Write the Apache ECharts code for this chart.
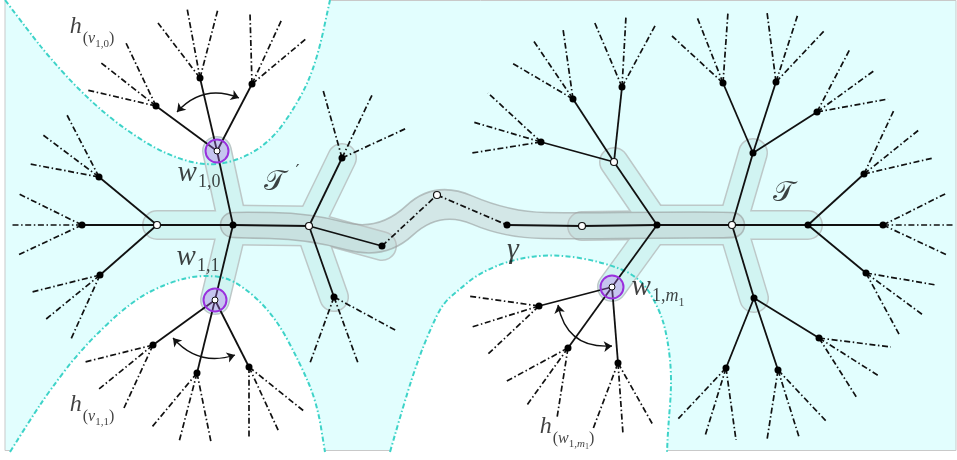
<!DOCTYPE html>
<html><head><meta charset="utf-8">
<script src="https://cdn.jsdelivr.net/npm/echarts@6/dist/echarts.min.js"></script>
<style>html,body{margin:0;padding:0;background:#fff}#c{width:957px;height:460px}</style>
</head><body><div id="c"></div><script>
// ---------- data ----------
const treeNodes = [
 ['L0',157,225,'open'],['L1',233,225,'dot'],['L2',309,226,'open'],['L3',382,246,'dot'],
 ['W10',217,151,'root'],['W11',215,300,'root'],
 ['A1',200,78,'dot'],['A2',252,84,'dot'],['A3',156,106,'dot'],
 ['B1',99,177,'dot'],['B2',82,225,'dot'],['B3',100,275,'dot'],
 ['C1',153,345,'dot'],['C2',197,373,'dot'],['C3',249,367,'dot'],
 ['D1',342,158,'dot'],['D2',334,297,'dot'],
 ['M1',437,195,'open'],['M2',507,225,'dot'],
 ['R0',582,226,'open'],['R1',657,225,'dot'],['R2',732,225,'open'],['R3',808,225,'dot'],['R4',883,225,'dot'],
 ['U0',614,162,'open'],['E1',541,142,'dot'],['E2',573,99,'dot'],['E3',622,87,'dot'],
 ['U1',753,153,'dot'],['F1',723,83,'dot'],['F2',776,82,'dot'],['F3',817,112,'dot'],
 ['G1',864,174,'dot'],['G2',866,273,'dot'],
 ['V1',754,298,'dot'],['H1',726,368,'dot'],['H2',778,370,'dot'],['H3',819,338,'dot'],
 ['WM',612,287,'root'],['K1',539,306,'dot'],['K2',568,348,'dot'],['K3',618,363,'dot']
];
const solidEdges = [
 ['L0','L1'],['L1','L2'],['L2','L3'],['L0','B1'],['L0','B2'],['L0','B3'],
 ['L1','W10'],['L1','W11'],['W10','A1'],['W10','A2'],['W10','A3'],
 ['W11','C1'],['W11','C2'],['W11','C3'],['L2','D1'],['L2','D2'],
 ['M2','R0'],['R0','R1'],['R1','R2'],['R2','R3'],['R3','R4'],
 ['R1','U0'],['U0','E1'],['U0','E2'],['U0','E3'],
 ['R2','U1'],['U1','F1'],['U1','F2'],['U1','F3'],
 ['R3','G1'],['R3','G2'],['R2','V1'],['V1','H1'],['V1','H2'],['V1','H3'],
 ['R1','WM'],['WM','K1'],['WM','K2'],['WM','K3']
];
const dashedEdges = [['L3','M1'],['M1','M2']];
const rayFans = [
 ['A1',[[187,8],[218,9],[158,23]]],
 ['A2',[[250,13],[282,19],[307,38]]],
 ['A3',[[87,90],[100,62],[126,43]]],
 ['B1',[[67,115],[43,135],[30,164]]],
 ['B2',[[19,194],[12,225],[18,255]]],
 ['B3',[[32,292],[45,320],[71,339]]],
 ['C1',[[85,362],[99,389],[124,408]]],
 ['C2',[[152,427],[179,442],[211,442]]],
 ['C3',[[249,438],[279,432],[305,412]]],
 ['D1',[[323,90],[373,93],[407,128]]],
 ['D2',[[310,363],[358,363],[397,331]]],
 ['E1',[[472,153],[473,122],[488,93]]],
 ['E2',[[512,63],[533,40],[563,29]]],
 ['E3',[[594,21],[626,16],[656,24]]],
 ['F1',[[672,36],[697,17],[728,12]]],
 ['F2',[[767,12],[798,14],[825,30]]],
 ['F3',[[850,49],[875,70],[888,99]]],
 ['G1',[[894,110],[920,129],[933,158]]],
 ['R4',[[947,193],[953,225],[947,255]]],
 ['G2',[[900,336],[923,315],[936,285]]],
 ['H1',[[677,420],[705,436],[736,440]]],
 ['H2',[[767,440],[799,437],[827,422]]],
 ['H3',[[857,398],[879,376],[891,347]]],
 ['K1',[[468,296],[472,327],[487,355]]],
 ['K2',[[505,382],[527,405],[557,418]]],
 ['K3',[[593,429],[623,434],[653,425]]]
];
const blobTPrimeEdges = [['L0','L1'],['L1','L2'],['L1','W10'],['L1','W11'],['L2','D1'],['L2','D2'],['L2','L3']];
const blobTEdges = [['R0','R1'],['R1','R2'],['R2','R3'],['R1','U0'],['R2','U1'],['R2','V1'],['R1','WM']];
const blobSpines = [['L1','L2'],['R1','R2']];
const gammaPath = ['L1','L2','L3','M1','M2','R0','R1','R2'];
const regionTopLeft = [[5,0],[30,33],[50,58],[80,91],[117,124],[167,156],[217,168],[267,147],[300,100],[317,60],[330,0]];
const regionBottomLeft = [[10,452],[30,420],[50,390],[83,347],[133,300],[170,282],[200,275],[233,278],[273,313],[300,363],[317,403],[325,452]];
const regionBottomMid = [[390,452],[405,400],[418,360],[430,330],[443,303],[460,289],[478,274],[513,259],[556,254],[603,262],[640,277],[660,310],[668,340],[672,380],[668,430],[667,452]];
const arrowArcs = [
 [[177,112],[239,98],0.35],
 [[173,338],[235,355],-0.33],
 [[558,305],[612,346],-0.44]
];
const labelItems = [
 ['{H|h}{hp|(}{hv|v}{hs|1,0}{hp|)}', 92, 39],
 ['{W|w}{ws|1,0}', 199, 180],
 ['{T|𝒯}{pr|′}', 282, 181],
 ['{W|w}{ws|1,1}', 198, 264],
 ['{H|h}{hp|(}{hv|v}{hs|1,1}{hp|)}', 92, 417],
 ['{G|γ}', 513, 250],
 ['{W|w}{ws|1,}{wsi|m}{wss|1}', 658, 294],
 ['{T|𝒯}', 783, 192],
 ['{H|h}{hp|(}{hv|w}{hs|1,}{hsi|m}{hss|1}{hp|)}', 567, 439]
];

// ---------- helpers ----------
const nodeMap = {};
treeNodes.forEach(n => { nodeMap[n[0]] = [n[1], n[2]]; });
const XY = name => nodeMap[name];
const mid = (a,b) => [(a[0]+b[0])/2,(a[1]+b[1])/2];
function openSmooth(p){
  let d = 'M'+p[0][0]+' '+p[0][1];
  for (let i=1;i<p.length-1;i++){ const e = mid(p[i],p[i+1]); d += ' Q'+p[i][0]+' '+p[i][1]+' '+e[0]+' '+e[1]; }
  const l = p[p.length-1]; return d + ' L'+l[0]+' '+l[1];
}
function closedSmooth(q){
  const m = q.length; const s = mid(q[m-1],q[0]);
  let d = 'M'+s[0]+' '+s[1];
  for (let i=0;i<m;i++){ const c=q[i], e=mid(q[i],q[(i+1)%m]); d += ' Q'+c[0]+' '+c[1]+' '+e[0]+' '+e[1]; }
  return d+' Z';
}
function tubeOutline(pts, r){
  const n = pts.length, segN=[], segD=[];
  for (let i=0;i<n-1;i++){ const dx=pts[i+1][0]-pts[i][0], dy=pts[i+1][1]-pts[i][1], L=Math.hypot(dx,dy); segD.push([dx/L,dy/L]); segN.push([-dy/L,dx/L]); }
  const left=[], right=[];
  for (let i=0;i<n;i++){
    let m, s;
    if (i===0){ m=segN[0]; s=r; } else if (i===n-1){ m=segN[n-2]; s=r; }
    else { const a=segN[i-1], b=segN[i]; let mx=a[0]+b[0], my=a[1]+b[1]; const ml=Math.hypot(mx,my); mx/=ml; my/=ml; m=[mx,my]; s=r/(mx*b[0]+my*b[1]); }
    left.push([pts[i][0]+m[0]*s, pts[i][1]+m[1]*s]);
    right.push([pts[i][0]-m[0]*s, pts[i][1]-m[1]*s]);
  }
  const loop = left.slice();
  const dN=segD[n-2], nN=segN[n-2], pN=pts[n-1];
  for (let k=1;k<6;k++){ const t=k*Math.PI/6; loop.push([pN[0]+r*(nN[0]*Math.cos(t)+dN[0]*Math.sin(t)), pN[1]+r*(nN[1]*Math.cos(t)+dN[1]*Math.sin(t))]); }
  for (let i=n-1;i>=0;i--) loop.push(right[i]);
  const d0=segD[0], n0=segN[0], p0=pts[0];
  for (let k=1;k<6;k++){ const t=k*Math.PI/6; loop.push([p0[0]+r*(-n0[0]*Math.cos(t)-d0[0]*Math.sin(t)), p0[1]+r*(-n0[1]*Math.cos(t)-d0[1]*Math.sin(t))]); }
  return loop;
}

const BG = '#e2fefe', CYAN = '#3ed3c8';
const chart = echarts.init(document.getElementById('c'), null, {renderer:'canvas'});

function regionsRender(params, api){
  const c = p => api.coord(p);
  const tl = c([5,0]), br = c([956,450]);
  const children = [{type:'rect', shape:{x:tl[0], y:tl[1]+0.5, width:br[0]-tl[0], height:br[1]-tl[1]}, style:{fill:BG, stroke:'#c9c9c9', lineWidth:1}}];
  [['top',regionTopLeft],['bottom',regionBottomLeft],['bottom',regionBottomMid]].forEach(([side, pts]) => {
    const px = pts.map(c);
    const f = px[0], l = px[px.length-1];
    const yy = side==='top' ? c([0,-12])[1] : c([0,472])[1];
    children.push({type:'path', shape:{pathData: openSmooth(px)+' L'+l[0]+' '+yy+' L'+f[0]+' '+yy+' Z'}, style:{fill:'#ffffff', stroke:null}});
  });
  return {type:'group', children};
}
function boundaryRender(params, api){
  const c = p => api.coord(p);
  return {type:'group', children:[regionTopLeft, regionBottomLeft, regionBottomMid].map(pts => ({
    type:'path', shape:{pathData: openSmooth(pts.map(c))},
    style:{fill:null, stroke:CYAN, lineWidth:2, lineDash:[5,2.4,1.5,2.4]}
  }))};
}
function blobsRender(params, api){
  const c = p => api.coord(p);
  const r = 13.5, rs = 19;
  const arms = blobTPrimeEdges.concat(blobTEdges).map(e => [c(XY(e[0])), c(XY(e[1]))]);
  const spines = blobSpines.map(e => [c(XY(e[0])), c(XY(e[1]))]);
  const children = [];
  const seg = (s, w, col) => ({type:'line', shape:{x1:s[0][0],y1:s[0][1],x2:s[1][0],y2:s[1][1]}, style:{stroke:col, lineWidth:w, lineCap:'round'}});
  arms.forEach(s => children.push(seg(s, 2*r+3, '#bdc8c8')));
  spines.forEach(s => children.push(seg(s, 2*rs+3, '#bdc8c8')));
  arms.forEach(s => children.push(seg(s, 2*r, '#d1f4f2')));
  spines.forEach(s => children.push(seg(s, 2*rs, '#d1f4f2')));
  return {type:'group', children};
}
function tubeRender(params, api){
  const pts = gammaPath.map(n => api.coord(XY(n)));
  return {type:'path', shape:{pathData: closedSmooth(tubeOutline(pts, 13))},
    style:{fill:'rgba(185,190,190,0.36)', stroke:'rgba(150,155,155,0.6)', lineWidth:1.6}};
}
function edgesRender(params, api){
  const c = p => api.coord(p);
  const children = [];
  const dash = [6,2.6,1.5,2.6];
  solidEdges.forEach(e => { const a=c(XY(e[0])), b=c(XY(e[1])); children.push({type:'line', shape:{x1:a[0],y1:a[1],x2:b[0],y2:b[1]}, style:{stroke:'#111', lineWidth:1.8}}); });
  dashedEdges.forEach(e => { const a=c(XY(e[0])), b=c(XY(e[1])); children.push({type:'line', shape:{x1:a[0],y1:a[1],x2:b[0],y2:b[1]}, style:{stroke:'#111', lineWidth:1.7, lineDash:dash}}); });
  rayFans.forEach(([n, ends]) => { const a=c(XY(n)); ends.forEach(e => { const b=c(e); children.push({type:'line', shape:{x1:a[0],y1:a[1],x2:b[0],y2:b[1]}, style:{stroke:'#111', lineWidth:1.7, lineDash:dash}}); }); });
  return {type:'group', children};
}

const F = 'Liberation Serif, DejaVu Serif, serif';
const K = '#111';
const rich = {
  H:{fontFamily:F, fontStyle:'italic', fontSize:24, lineHeight:24, padding:[0,1,12,0], verticalAlign:'bottom', color:K},
  hp:{fontFamily:F, fontSize:16, lineHeight:16, padding:[0,0,4,0], verticalAlign:'bottom', color:K},
  hv:{fontFamily:F, fontStyle:'italic', fontSize:16, lineHeight:16, padding:[0,0,4,0], verticalAlign:'bottom', color:K},
  hs:{fontFamily:F, fontSize:11, lineHeight:11, padding:[0,0,1,0], verticalAlign:'bottom', color:K},
  hsi:{fontFamily:F, fontStyle:'italic', fontSize:11, lineHeight:11, padding:[0,0,1,0], verticalAlign:'bottom', color:K},
  hss:{fontFamily:F, fontSize:8, lineHeight:8, padding:[0,0,0,0], verticalAlign:'bottom', color:K},
  W:{fontFamily:F, fontStyle:'italic', fontSize:29, lineHeight:29, padding:[0,1,7,0], verticalAlign:'bottom', color:K},
  ws:{fontFamily:F, fontSize:18, lineHeight:18, padding:[0,0,3,0], verticalAlign:'bottom', color:K},
  wsi:{fontFamily:F, fontStyle:'italic', fontSize:18, lineHeight:18, padding:[0,0,3,0], verticalAlign:'bottom', color:K},
  wss:{fontFamily:F, fontSize:12, lineHeight:12, padding:[0,0,0,0], verticalAlign:'bottom', color:K},
  T:{fontFamily:'DejaVu Sans, DejaVu Serif, serif', fontSize:28, lineHeight:32, verticalAlign:'bottom', color:K},
  pr:{fontFamily:'DejaVu Sans, serif', fontSize:18, lineHeight:18, padding:[0,0,16,10], verticalAlign:'bottom', color:K},
  G:{fontFamily:F, fontStyle:'italic', fontSize:30, lineHeight:30, color:K}
};

const option = {
  animation:false,
  backgroundColor:'#ffffff',
  grid:{left:0, right:0, top:0, bottom:0, containLabel:false},
  xAxis:{type:'value', min:0, max:957, show:false},
  yAxis:{type:'value', min:0, max:460, inverse:true, show:false},
  series:[
    {type:'custom', z:1, data:[[0,0]], renderItem:regionsRender, silent:true},
    {type:'custom', z:2, data:[[0,0]], renderItem:blobsRender, silent:true},
    {type:'custom', z:3, data:[[0,0]], renderItem:boundaryRender, silent:true},
    {type:'custom', z:4, data:[[0,0]], renderItem:tubeRender, silent:true},
    {type:'custom', z:5, data:[[0,0]], renderItem:edgesRender, silent:true},
    {type:'lines', coordinateSystem:'cartesian2d', z:6, silent:true,
     symbol:['arrow','arrow'], symbolSize:8,
     lineStyle:{color:'#111', width:1.3, opacity:1},
     data: arrowArcs.map(a => ({coords:[a[0],a[1]], lineStyle:{curveness:a[2]}}))},
    {type:'scatter', z:7, silent:true, symbol:'circle', symbolSize:23,
     itemStyle:{color:'rgba(175,110,235,0.35)', borderColor:'#9a30dd', borderWidth:2, opacity:1},
     data: treeNodes.filter(n => n[3]==='root').map(n => [n[1],n[2]])},
    {type:'scatter', z:8, silent:true, symbol:'circle', symbolSize:7,
     itemStyle:{color:'#000', opacity:1},
     data: treeNodes.filter(n => n[3]==='dot').map(n => [n[1],n[2]])},
    {type:'scatter', z:8, silent:true, symbol:'circle', symbolSize:7,
     itemStyle:{color:'#fff', borderColor:'#111', borderWidth:1.2, opacity:1},
     data: treeNodes.filter(n => n[3]==='open').map(n => [n[1],n[2]])},
    {type:'scatter', z:8, silent:true, symbol:'circle', symbolSize:6,
     itemStyle:{color:'#fff', borderColor:'#111', borderWidth:1, opacity:1},
     data: treeNodes.filter(n => n[3]==='root').map(n => [n[1],n[2]])},
    {type:'scatter', z:9, silent:true, symbolSize:0,
     itemStyle:{color:'rgba(0,0,0,0)'},
     label:{show:true, position:'inside', rich},
     data: labelItems.map(l => ({value:[l[1],l[2]], label:{formatter:l[0]}}))}
  ]
};
chart.setOption(option);
</script></body></html>
